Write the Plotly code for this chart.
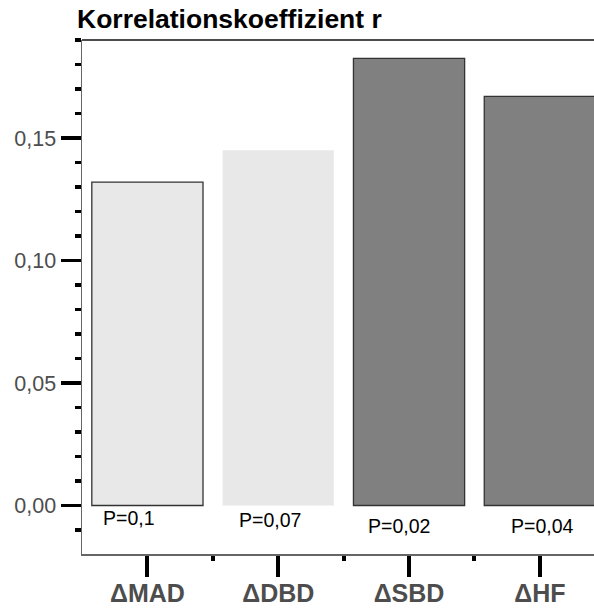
import plotly.graph_objects as go

categories = ["ΔMAD", "ΔDBD", "ΔSBD", "ΔHF"]
r_values = [0.132, 0.145, 0.1825, 0.167]
p_labels = ["P=0,1", "P=0,07", "P=0,02", "P=0,04"]
y_tick_values = [0.0, 0.05, 0.10, 0.15]
y_tick_labels = ["0,00", "0,05", "0,10", "0,15"]

fill_colors = ["#e8e8e8", "#e8e8e8", "#808080", "#808080"]
line_widths = [1.3, 0, 1.3, 1.3]

FONT = "Liberation Sans, Arial, Helvetica, sans-serif"
xs = list(range(len(categories)))

fig = go.Figure()
fig.add_trace(go.Bar(
    x=xs, y=r_values, width=0.85,
    marker=dict(color=fill_colors, line=dict(color="#333333", width=line_widths)),
    hoverinfo="skip", showlegend=False,
))

# P-value labels under the bars (slight offsets as in the original)
x_off = [-0.14, -0.06, -0.08, 0.02]
y_pos = [-0.0053, -0.0060, -0.0083, -0.0083]
for i, lab in enumerate(p_labels):
    fig.add_annotation(x=xs[i] + x_off[i], y=y_pos[i], text=lab, showarrow=False,
                       xanchor="center", yanchor="middle",
                       font=dict(family=FONT, size=19.5, color="#000000"))

# top frame line
fig.add_shape(type="line", xref="paper", yref="paper", x0=0, x1=1, y0=1, y1=1,
              line=dict(color="#111111", width=1.5))

fig.update_layout(
    width=594, height=609,
    margin=dict(l=82, r=0, t=40, b=55),
    paper_bgcolor="white", plot_bgcolor="white",
    separators=", ",
    bargap=0.15,
    title=dict(text="<b>Korrelationskoeffizient r</b>", x=77/594, xref="container", xanchor="left",
               y=1 - 18.5/609, yref="container", yanchor="middle",
               font=dict(family=FONT, size=26.5, color="#000000")),
    xaxis=dict(
        range=[-0.5, 3.414], tickmode="array", tickvals=xs, ticktext=categories,
        showgrid=False, zeroline=False, showline=True, linecolor="#666666", linewidth=1.5,
        ticks="outside", ticklen=21, tickwidth=4, tickcolor="#000000",
        tickfont=dict(family=FONT, size=25, color="#4d4d4d", weight="bold"),
        ticklabelstandoff=-5,
        minor=dict(tickmode="array", tickvals=[0.5, 1.5, 2.5], ticks="outside",
                   ticklen=5, tickwidth=4, tickcolor="#000000", showgrid=False),
        automargin=False, fixedrange=True,
    ),
    yaxis=dict(
        range=[-0.0198, 0.19], tickmode="array", tickvals=y_tick_values, ticktext=y_tick_labels,
        showgrid=False, zeroline=False, showline=True, linecolor="#666666", linewidth=1.5,
        ticks="outside", ticklen=20, tickwidth=3.7, tickcolor="#000000",
        tickfont=dict(family=FONT, size=21.5, color="#4d4d4d"),
        minor=dict(tickmode="linear", tick0=0, dtick=0.01, ticks="outside",
                   ticklen=6, tickwidth=3.5, tickcolor="#000000", showgrid=False),
        automargin=False, fixedrange=True,
    ),
)

fig.write_html("out.html", config={"displayModeBar": False, "staticPlot": True},
               post_script="document.body.style.margin='0px';document.body.style.overflow='hidden';")
